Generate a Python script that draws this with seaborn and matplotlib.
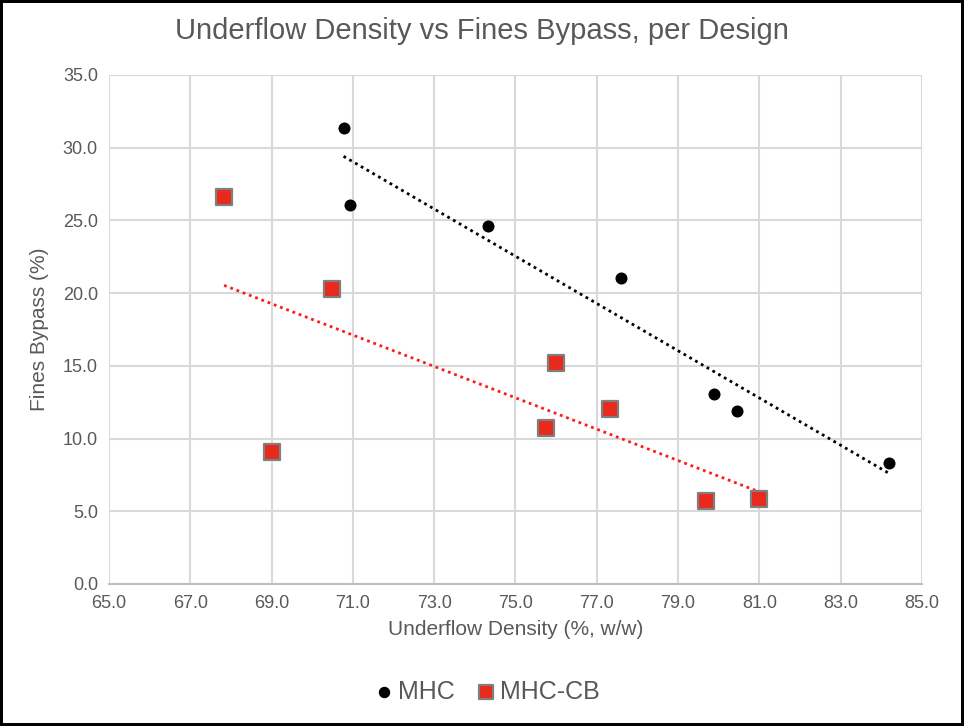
import pandas as pd
import numpy as np
import matplotlib
matplotlib.use("Agg")
import matplotlib.pyplot as plt
import seaborn as sns
from matplotlib.ticker import FormatStrFormatter

# values
mhc_density = [70.77, 70.93, 74.32, 77.59, 79.88, 80.45, 84.19]
mhc_bypass = [31.36, 26.07, 24.63, 21.06, 13.09, 11.92, 8.30]
cb_density = [67.83, 69.01, 70.49, 75.76, 76.00, 77.33, 79.69, 81.00]
cb_bypass = [26.60, 9.09, 20.28, 10.73, 15.20, 12.04, 5.74, 5.86]
x_ticks = np.arange(65, 86, 2)
y_ticks = np.arange(0, 36, 5)

mhc = pd.DataFrame({"Underflow": mhc_density, "Bypass": mhc_bypass})
cb = pd.DataFrame({"Underflow": cb_density, "Bypass": cb_bypass})

sns.set_style("white")
plt.rcParams["font.family"] = ["Liberation Sans", "DejaVu Sans"]
grey_txt = "#595959"
red = "#E8291C"

fig = plt.figure(figsize=(9.64, 7.26), dpi=100, edgecolor="black", linewidth=3)
ax = fig.add_axes([0.1131, 0.1956, 0.8433, 0.7011])

# dotted linear trendlines
sns.regplot(data=mhc, x="Underflow", y="Bypass", scatter=False, ci=None, ax=ax,
            line_kws={"color": "black", "lw": 2, "ls": (0, (1, 1.4))})
sns.regplot(data=cb, x="Underflow", y="Bypass", scatter=False, ci=None, ax=ax,
            line_kws={"color": "#FF1A1A", "lw": 2, "ls": (0, (1, 1.4))})

sns.scatterplot(data=mhc, x="Underflow", y="Bypass", marker="o", s=75,
                color="black", edgecolor="black", linewidth=0, ax=ax,
                label="MHC", zorder=4)
sns.scatterplot(data=cb, x="Underflow", y="Bypass", marker="s", s=120,
                color=red, edgecolor="#7F7F7F", linewidth=1.6, ax=ax,
                label="MHC-CB", zorder=4)

ax.set_xlim(65, 85)
ax.set_ylim(0, 35)
ax.set_xticks(x_ticks)
ax.set_yticks(y_ticks)
ax.xaxis.set_major_formatter(FormatStrFormatter("%.1f"))
ax.yaxis.set_major_formatter(FormatStrFormatter("%.1f"))
ax.grid(True, color="#D9D9D9", lw=1.5)
ax.set_axisbelow(True)
for side in ["top", "right", "left"]:
    ax.spines[side].set_visible(False)
ax.spines["bottom"].set_color("#BFBFBF")
ax.spines["bottom"].set_linewidth(1.5)
ax.tick_params(length=0, labelsize=13, labelcolor=grey_txt, pad=8)

ax.set_xlabel("Underflow Density (%, w/w)", fontsize=15, color=grey_txt, labelpad=6)
ax.set_ylabel("Fines Bypass (%)", fontsize=15, color=grey_txt, labelpad=10)
fig.suptitle("Underflow Density vs Fines Bypass, per Design", fontsize=21,
             color=grey_txt, y=0.977)

ax.legend(loc="center", bbox_to_anchor=(0.464, -0.212), ncol=2, frameon=False,
          fontsize=18, labelcolor=grey_txt, handletextpad=0.1, columnspacing=0.8,
          handlelength=0.9, markerscale=0.95)

fig.savefig("out.png", dpi=100)
